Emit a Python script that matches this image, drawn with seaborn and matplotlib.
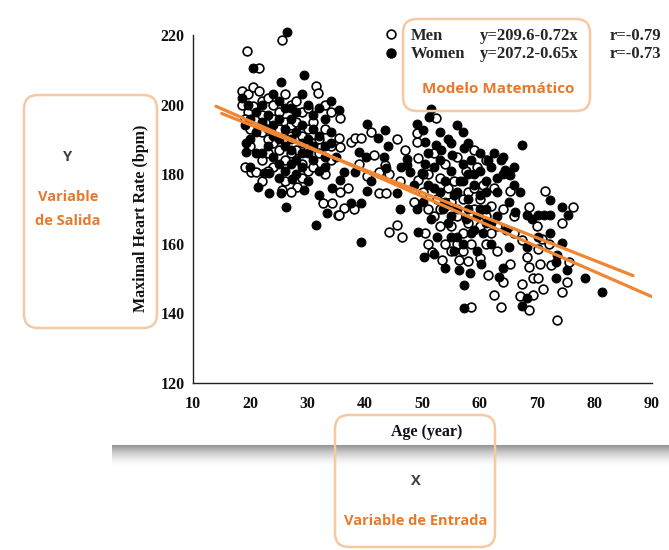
import numpy as np
import pandas as pd
import matplotlib
matplotlib.use("Agg")
import matplotlib.pyplot as plt
import seaborn as sns
from matplotlib.patches import FancyBboxPatch, Rectangle
from matplotlib.transforms import IdentityTransform

# ---------------- data ----------------
men_age = [19.4, 25.5, 21.5, 18.5, 19.5, 20.5, 21.5, 22, 18.5, 19.5, 20.5, 23, 24, 25, 26, 27, 28, 29, 30,
           31.4, 31.7, 33, 34, 35.6, 20.1, 21, 22, 23, 24, 25.5, 26, 27, 28.2, 28, 29, 30, 31, 32.6, 34.3,
           35.2, 33, 32, 22, 23.5, 20, 26, 30, 24, 21, 25, 29, 27, 35.4, 35.7, 35.7, 34, 36.3, 35.4, 33, 31, 19,
           19, 20, 22, 23, 24, 26, 27, 28, 30, 31, 32, 34, 25, 29, 22, 27, 23, 26,
           37.5, 38.3, 39.2, 40.4, 42.4, 44.2, 41.5, 43.5, 42.4, 43.6, 44.2, 45.6, 46.5, 45.5, 37, 39, 38, 41, 47, 46,
           49.1, 49.1, 49.3, 49.3, 52.3, 51.7, 53.4, 56.4, 58.4, 61.5, 50, 51, 52, 52.5, 53, 54, 55, 55.5, 56, 57,
           58, 58.5, 59, 59.5, 60, 60.5, 61, 52, 54, 56, 57.5, 59, 61, 50.5, 53, 55, 57, 60, 62, 48.5, 51, 54.5, 58,
           51, 53, 55, 56, 58, 59, 60, 61, 62, 57, 54, 50,
           62.4, 63.6, 65.3, 65.3, 67.3, 67.3, 68.2, 68.5, 68.5, 68.5, 69.3, 69.3, 70.2, 70.2, 70.5, 70.8, 71.4,
           72.4, 73.4, 74.3, 74.3, 75.5, 75.2, 76.3, 63, 64, 66, 63, 65, 62.5, 66, 67, 64, 70, 72, 71]
men_hr = [215.4, 218.6, 210.6, 204, 203, 205, 204, 201, 200, 198, 199.5, 202, 200, 198, 203, 200, 201, 198, 199,
          205.4, 203.3, 200, 198, 196.1, 180.7, 180.7, 184, 186, 189, 175.5, 184, 191, 176.4, 187, 183, 193, 189,
          171.6, 171.6, 168.3, 180, 186, 192, 195, 188, 195, 181, 182, 196, 193, 191, 186, 190.3, 187.9, 175, 184,
          170.4, 168.3, 193, 195, 182,
          196, 193, 197, 190, 196, 190, 194, 195, 187, 182, 190, 188, 187, 179, 178, 175, 181, 178,
          189.2, 190.3, 190.3, 179.6, 180.5, 180, 185.5, 182.6, 174.5, 174.5, 163.5, 165.4, 162.0, 190.1, 176, 183,
          170, 192, 187, 178,
          191.8, 189.2, 184.6, 178.3, 196.1, 157.7, 155.3, 155.3, 141.9, 151, 175, 170, 168, 173, 165, 160, 172,
          178, 168, 163, 175, 160, 170, 182, 165, 177, 160, 186, 183, 185, 181, 187, 184, 163, 179, 158, 173, 156,
          171, 172, 180, 176, 166,
          160, 170, 165, 160, 155, 176, 173, 168, 163, 158, 171, 180,
          145.3, 141.9, 154.2, 175.3, 161.1, 148.4, 156.3, 170.5, 153.4, 141, 150.1, 145.3, 150.1, 158.4, 154.2,
          161.3, 175.3, 153.9, 138.1, 166.1, 146.2, 154.9, 149.1, 170.5, 165, 170, 163, 158, 180, 176, 168, 145,
          149, 165, 160, 147]

women_age = [26.3, 20.4, 29.3, 25.3, 18.5, 19.5, 20, 21, 22, 23, 24, 25, 26, 27, 28, 29, 30, 31, 32, 33, 34,
             19.2, 19.2, 21.3, 23.2, 25.3, 26.2, 27.3, 29.4, 31.4, 33.4, 34.3, 22.4, 23.2, 24, 25, 26, 27, 28, 29,
             30, 31, 32, 33, 34, 30, 28, 24, 21, 22, 26, 31, 33, 35, 20, 25, 27, 32, 29, 35.4, 36.3, 35.7,
             19, 20, 21, 22, 23, 24, 25, 26, 27, 28, 29, 30, 31, 32, 33, 34, 27, 23, 25, 29,
             37.5, 39.2, 38.3, 38.9, 40.1, 40.4, 40.4, 42.3, 43.5, 43.3, 43.6, 45.6, 46.2, 47.3, 47.9, 47.3, 39.2,
             41, 44, 46,
             48.5, 49.2, 49.1, 49.9, 50.1, 50.5, 51.4, 51.2, 52.3, 53.3, 55.1, 57.2, 50.2, 56.4, 57.3, 58.3, 57.2,
             60.2, 50, 51, 51.5, 52, 52.5, 53, 53.5, 54, 54.5, 55, 55, 55.5, 56, 56.5, 57, 57, 57.5, 58, 58, 58.5,
             59, 59.5, 59.5, 60, 60, 60.5, 61, 61, 61.5, 62, 62, 53, 54.5, 56, 58, 60, 52, 54, 50.5, 49, 55.5, 58.5,
             51, 52, 53, 54, 55, 56, 57, 58, 59, 60, 61, 56, 59, 62, 63, 61, 55, 57,
             63.3, 64.1, 66.2, 67.3, 67.3, 68.2, 68.2, 68.3, 70.2, 70.2, 71.1, 72.3, 72.3, 72.3, 73.3, 73.3, 73.4,
             74.3, 74.3, 75.3, 75.2, 78.3, 81.3, 63, 64, 65, 66, 63, 64.5, 65, 66, 62.5, 64, 67, 69, 63.6, 64.4, 65.3]
women_hr = [220.8, 210.6, 208.5, 206.6, 202, 200, 196, 198, 200, 197, 203, 201, 199, 196, 198, 203, 200, 197,
            199, 196, 201, 188.9, 186.5, 176.4, 174.6, 174.6, 170.7, 178.6, 175.5, 165.4, 168.8, 176, 180.3, 180.3,
            185, 190, 188, 183, 192, 186, 190, 184, 181, 188, 192, 178, 180, 194, 192, 186, 181, 193, 182, 185,
            182, 183, 190, 174, 194, 198.4, 180.7, 178.3,
            194, 190, 186, 195, 188, 191, 196, 193, 187, 184, 189, 186, 188, 191, 185, 189, 199, 193, 179, 182,
            171.6, 171.6, 180.7, 186.5, 185, 175.2, 194.3, 190.3, 192.7, 185, 181.7, 174.5, 182.2, 182.6, 180.5,
            184.4, 160.6, 178, 188, 170,
            176.9, 163.5, 194.3, 180.3, 192.7, 189.2, 198.7, 196.5, 188.4, 187, 185.5, 187.4, 156.3, 152.5, 148.2,
            151.5, 141.5, 154.2, 172, 177, 167, 182, 162, 175, 170, 178, 166, 181, 162, 174, 170, 178, 160, 183,
            167, 173, 180, 163, 177, 168, 158, 174, 181, 163, 170, 178, 184, 166, 160, 192, 190, 194, 189, 186,
            157, 153, 183, 170, 158, 184,
            186, 176, 184, 172, 168, 175, 178, 170, 180, 170, 175, 162, 164, 182, 179, 166, 189, 192,
            150.6, 153, 169.2, 188.4, 142.1, 168.3, 159.2, 144.3, 168.3, 161.9, 168.3, 168.3, 172.6, 163, 154.9,
            150.1, 156.8, 170.5, 160.1, 168.3, 152.5, 150.1, 146.2, 175, 180, 172, 177, 168, 164, 159, 182, 186,
            185, 175, 167, 184, 181.2, 179.8]

series_labels = ["Men", "Women"]
equations = ["y=209.6-0.72x", "y=207.2-0.65x"]
r_values = ["r=-0.79", "r=-0.73"]
intercepts = [209.6, 207.2]
slopes = [-0.72, -0.65]
line_age_range = [[14, 90], [15, 86.7]]

x_ticks = [10, 20, 30, 40, 50, 60, 70, 80, 90]
y_ticks = [120, 140, 160, 180, 200, 220]

# ---------------- figure ----------------
W, H = 669, 550
sns.set_style("white")
plt.rcParams["font.family"] = ["Liberation Serif", "DejaVu Serif"]

fig = plt.figure(figsize=(W / 100, H / 100), dpi=100)
fig.patch.set_facecolor("white")
disp = IdentityTransform()


def rect_px(x0, y0, x1, y1):
    """pixel box (top-left origin) -> (x, y, w, h) in display coords"""
    return x0, H - y1, x1 - x0, y1 - y0


# drop shadow under the pasted chart image
for i in range(22):
    a = 0.42 * (1 - i / 22) ** 1.8
    x, y, w, h = rect_px(112, 445 + i, W, 446 + i)
    fig.patches.append(Rectangle((x, y), w, h, transform=disp,
                                 facecolor="black", alpha=a, edgecolor="none", zorder=0))

ax = fig.add_axes([193 / W, 1 - 383 / H, (652 - 193) / W, (383 - 35) / H])
ax.set_facecolor("none")

df_men = pd.DataFrame({"age": men_age, "hr": men_hr})
df_women = pd.DataFrame({"age": women_age, "hr": women_hr})

msize = 40
sns.scatterplot(data=df_men, x="age", y="hr", ax=ax, marker="o", s=msize, color="white",
                edgecolor="black", linewidth=1.2, clip_on=False, zorder=3)
sns.scatterplot(data=df_women, x="age", y="hr", ax=ax, marker="o", s=msize, color="black",
                edgecolor="black", linewidth=0.8, clip_on=False, zorder=3)

orange = "#EF8634"
for rng, b0, b1 in zip(line_age_range, intercepts, slopes):
    xs = np.array(rng, dtype=float)
    sns.lineplot(x=xs, y=b0 + b1 * xs, ax=ax, color=orange, linewidth=2.3, zorder=4)

ax.set_xlim(10, 90)
ax.set_ylim(120, 220)
ax.set_xticks(x_ticks)
ax.set_yticks(y_ticks)
ax.set_xticks(np.arange(15, 90, 10), minor=True)
ax.set_yticks(np.arange(130, 220, 20), minor=True)
for s in ["top", "right"]:
    ax.spines[s].set_visible(False)
for s in ["left", "bottom"]:
    ax.spines[s].set_color("#222222")
    ax.spines[s].set_linewidth(1.0)
ax.tick_params(axis="x", which="major", direction="in", length=5, width=1, pad=9,
               labelsize=11.5, colors="#111111")
ax.tick_params(axis="x", which="minor", direction="in", length=3, width=1)
ax.tick_params(axis="y", which="major", direction="out", length=5, width=1, pad=1,
               labelsize=11.5, colors="#111111")
ax.tick_params(axis="y", which="minor", direction="out", length=3, width=1)
for lab in ax.get_xticklabels() + ax.get_yticklabels():
    lab.set_fontweight("bold")
ax.set_xlabel("")
ax.set_ylabel("")

fig.text(427 / W, 1 - 432 / H, "Age (year)", ha="center", va="center", fontsize=11.5,
         fontweight="bold", color="#111111")
fig.text(141 / W, 1 - 218 / H, "Maximal Heart Rate (bpm)", ha="center", va="center",
         rotation=90, fontsize=11.5, fontweight="bold", color="#111111")

# legend (markers + text)
for i, (lab, eq, r) in enumerate(zip(series_labels, equations, r_values)):
    yy = 34 + i * 18.5
    ax.scatter([391 / W], [1 - yy / H], transform=fig.transFigure, s=msize,
               c="white" if i == 0 else "black", edgecolors="black", linewidths=1.2,
               clip_on=False, zorder=5)
    ty = 1 - (yy + 2) / H
    fig.text(411 / W, ty, lab, ha="left", va="center", fontsize=12, fontweight="bold")
    fig.text(480 / W, ty, eq, ha="left", va="center", fontsize=12, fontweight="bold")
    fig.text(610 / W, ty, r, ha="left", va="center", fontsize=12, fontweight="bold")

# annotation boxes
box_edge = "#F6C9A2"
txt_orange = "#E8782A"
sans = ["Open Sans", "DejaVu Sans"]
for (x0, y0, x1, y1) in [(403, 19, 590, 111), (24, 95, 157, 328), (335, 415, 495, 547)]:
    x, y, w, h = rect_px(x0, y0, x1, y1)
    fig.patches.append(FancyBboxPatch((x, y), w, h, transform=disp,
                                      boxstyle="round,pad=0,rounding_size=14",
                                      facecolor="none", edgecolor=box_edge, linewidth=1.8,
                                      zorder=6))

fig.text(498 / W, 1 - 89 / H, "Modelo Matemático", ha="center", va="center", fontsize=11,
         fontweight="bold", color=txt_orange, family=sans)
fig.text(68 / W, 1 - 157 / H, "Y", ha="center", va="center", fontsize=10.5,
         fontweight="bold", color="#3E3E3E", family=sans)
fig.text(68 / W, 1 - 197 / H, "Variable", ha="center", va="center", fontsize=10.5,
         fontweight="bold", color=txt_orange, family=sans)
fig.text(68 / W, 1 - 221 / H, "de Salida", ha="center", va="center", fontsize=10.5,
         fontweight="bold", color=txt_orange, family=sans)
fig.text(416 / W, 1 - 481 / H, "X", ha="center", va="center", fontsize=10.5,
         fontweight="bold", color="#3E3E3E", family=sans)
fig.text(416 / W, 1 - 521 / H, "Variable de Entrada", ha="center", va="center", fontsize=10.5,
         fontweight="bold", color=txt_orange, family=sans)

fig.savefig("out.png", dpi=100, facecolor="white")
